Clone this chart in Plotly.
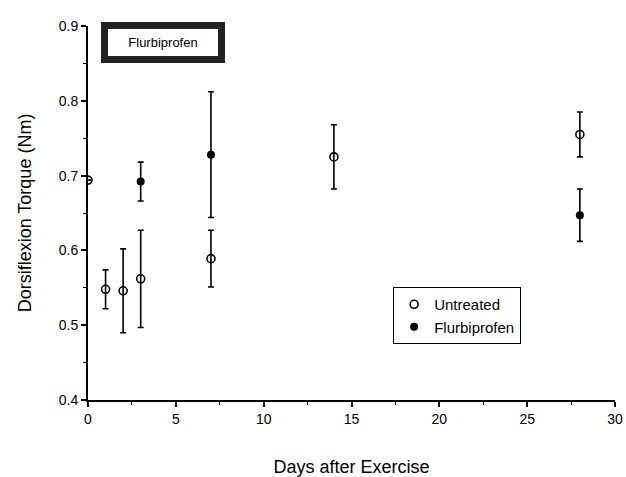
import plotly.graph_objects as go

# Data (corrected for the tilt of the scan)
days_untreated = [0, 1, 2, 3, 7, 14, 28]
torque_untreated = [0.694, 0.548, 0.546, 0.562, 0.589, 0.725, 0.755]
err_untreated = [0.0, 0.026, 0.056, 0.065, 0.038, 0.043, 0.030]

days_flurb = [3, 7, 28]
torque_flurb = [0.692, 0.728, 0.647]
err_flurb = [0.026, 0.084, 0.035]

x_ticks = [0, 5, 10, 15, 20, 25, 30]
y_ticks = [0.4, 0.5, 0.6, 0.7, 0.8, 0.9]

font_family = "Liberation Sans, Arial, sans-serif"

fig = go.Figure()

fig.add_trace(go.Scatter(
    x=days_untreated, y=torque_untreated, mode="markers", name="Untreated",
    marker=dict(symbol="circle-open", size=8, color="black", line=dict(width=1.6, color="black")),
    error_y=dict(type="data", array=err_untreated, visible=True, color="black", thickness=1.6, width=3),
))
fig.add_trace(go.Scatter(
    x=days_flurb, y=torque_flurb, mode="markers", name="Flurbiprofen",
    marker=dict(symbol="circle", size=8, color="black"),
    error_y=dict(type="data", array=err_flurb, visible=True, color="black", thickness=1.6, width=3),
))

fig.add_annotation(
    x=0, y=0.9, xref="x", yref="y", xanchor="left", yanchor="top",
    text="Flurbiprofen", showarrow=False,
    font=dict(family=font_family, size=13, color="black"),
    bgcolor="white", bordercolor="#222222", borderwidth=7, borderpad=0,
    width=110, height=27, xshift=13, yshift=4,
)

fig.update_layout(
    width=626, height=477,
    margin=dict(l=88, r=11, t=26, b=77),
    paper_bgcolor="white", plot_bgcolor="white",
    font=dict(family=font_family, size=14, color="black"),
    showlegend=True,
    legend=dict(
        x=0.579, y=0.302, xanchor="left", yanchor="top",
        bordercolor="black", borderwidth=1, bgcolor="white",
        font=dict(family=font_family, size=15, color="black"),
        itemwidth=30, tracegroupgap=0,
    ),
    xaxis=dict(
        range=[0, 30], tickvals=x_ticks, ticktext=[str(v) for v in x_ticks],
        showline=True, linecolor="black", linewidth=2,
        ticks="outside", ticklen=5, tickwidth=1.5, tickcolor="black",
        minor=dict(dtick=2.5, ticks="outside", ticklen=3, tickwidth=1.2, tickcolor="black"),
        showgrid=False, zeroline=False, ticklabeloverflow="allow", automargin=False,
        tickfont=dict(size=14),
        title=dict(text="Days after Exercise", font=dict(size=18), standoff=40),
    ),
    yaxis=dict(
        range=[0.4, 0.9], tickvals=y_ticks, ticktext=[f"{v:.1f}" for v in y_ticks],
        showline=True, linecolor="black", linewidth=2,
        ticks="outside", ticklen=5, tickwidth=1.5, tickcolor="black",
        minor=dict(dtick=0.05, ticks="outside", ticklen=3, tickwidth=1.2, tickcolor="black"),
        showgrid=False, zeroline=False, automargin=False,
        tickfont=dict(size=14),
        title=dict(text="Dorsiflexion Torque (Nm)", font=dict(size=18), standoff=22),
    ),
)

fig.write_html(
    "out.html",
    config={"displayModeBar": False},
    post_script="document.body.style.margin='0';document.body.style.overflow='hidden';",
)
